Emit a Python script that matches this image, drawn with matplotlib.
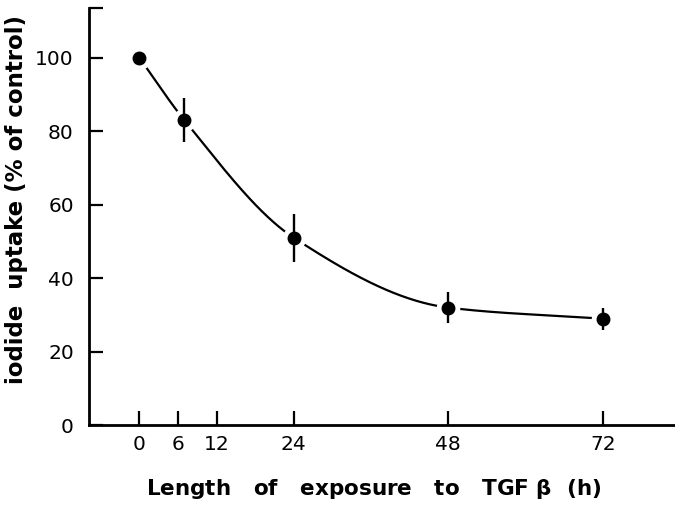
import numpy as np
from matplotlib import pyplot as plt

# data
hours = [0, 7, 24, 48, 72]
uptake = [100, 83, 51, 32, 29]
sem = [0, 6, 6.5, 4.2, 3]
x_ticks = [0, 6, 12, 24, 48, 72]
y_ticks = [0, 20, 40, 60, 80, 100]


def monotone_curve(x, y, n=300):
    # Fritsch-Carlson monotone cubic through the points
    x = np.asarray(x, float)
    y = np.asarray(y, float)
    h = np.diff(x)
    d = np.diff(y) / h
    m = np.zeros_like(y)
    m[0], m[-1] = d[0], d[-1]
    for i in range(1, len(y) - 1):
        if d[i - 1] * d[i] > 0:
            w1 = 2 * h[i] + h[i - 1]
            w2 = h[i] + 2 * h[i - 1]
            m[i] = (w1 + w2) / (w1 / d[i - 1] + w2 / d[i])
    xs = np.linspace(x[0], x[-1], n)
    k = np.clip(np.searchsorted(x, xs) - 1, 0, len(h) - 1)
    t = (xs - x[k]) / h[k]
    h00 = 2 * t**3 - 3 * t**2 + 1
    h10 = t**3 - 2 * t**2 + t
    h01 = -2 * t**3 + 3 * t**2
    h11 = t**3 - t**2
    ys = h00 * y[k] + h10 * h[k] * m[k] + h01 * y[k + 1] + h11 * h[k] * m[k + 1]
    return xs, ys


fig = plt.figure(figsize=(6.75, 5.08), dpi=100)
ax = fig.add_axes([0.132, 0.163, 0.868, 0.821])

cx, cy = monotone_curve(hours, uptake)
ax.plot(cx, cy, color='black', lw=1.6, zorder=1)
# white halo leaves a gap between the curve and each marker
ax.plot(hours, uptake, 'o', ms=16, color='white', zorder=2)
ax.errorbar(hours, uptake, yerr=sem, fmt='o', ms=9, color='black',
            elinewidth=1.7, capsize=0, zorder=3)

ax.set_xlim(-7.8, 83.2)
ax.set_ylim(0, 113.5)
ax.set_xticks(x_ticks)
ax.set_yticks(y_ticks + [113.5])
ax.set_yticklabels([str(v) for v in y_ticks] + [''])
ax.tick_params(direction='in', length=10, width=1.6, labelsize=14.5)
ax.tick_params(axis='y', pad=11)
ax.tick_params(axis='x', pad=7)

for side in ['top', 'right']:
    ax.spines[side].set_visible(False)
for side in ['left', 'bottom']:
    ax.spines[side].set_linewidth(2)

ax.set_xlabel('Length   of   exposure   to   TGF $\\mathbf{\\beta}$  (h)', fontsize=15.5,
              fontweight='bold')
ax.xaxis.set_label_coords(0.486, -0.125)
ax.set_ylabel('iodide  uptake (% of control)', fontsize=16.5,
              fontweight='bold')
ax.yaxis.set_label_coords(-0.104, 0.54)

fig.savefig('out.png', dpi=100)
